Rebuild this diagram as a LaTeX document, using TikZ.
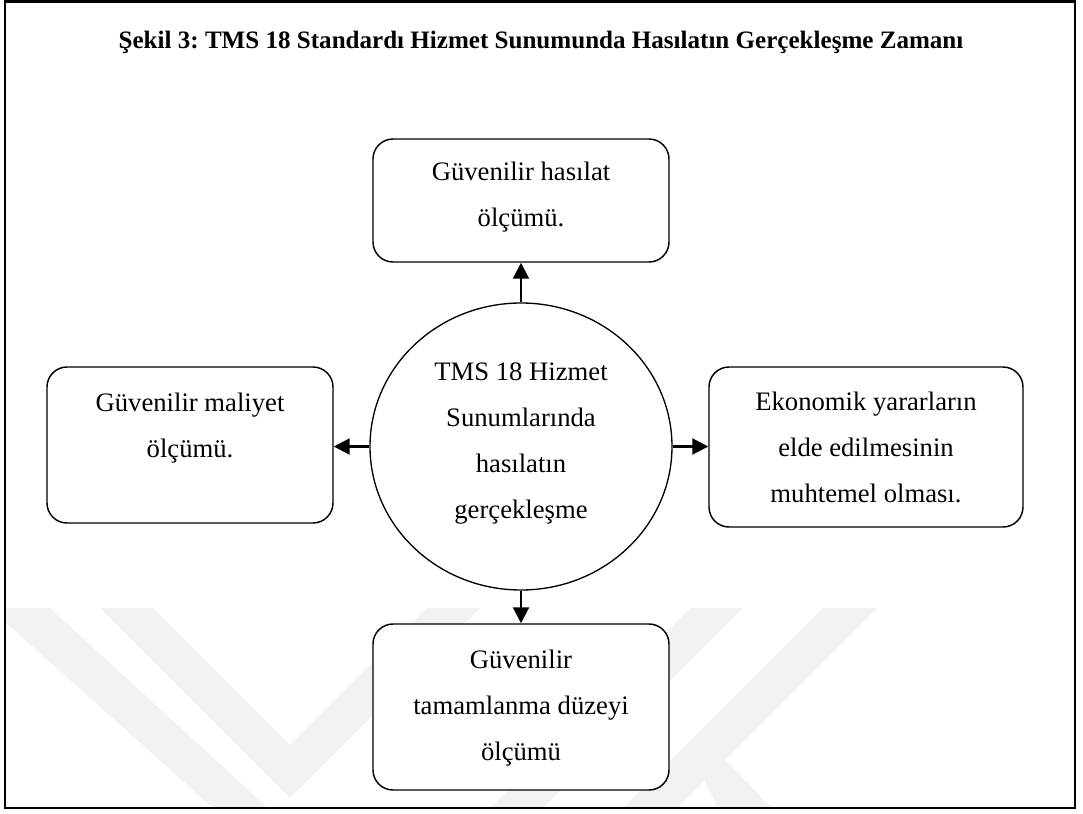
\documentclass[tikz,border=0pt]{standalone}
\usepackage{fontspec}
\setmainfont{Liberation Serif}
\usetikzlibrary{arrows.meta,shapes.geometric}
\frenchspacing
\begin{document}
\begin{tikzpicture}[x=0.75pt,y=-0.75pt,
  wmark/.style={fill=black!5,draw=none},
  box/.style={draw,line width=1.1pt,rounded corners=15pt,fill=white,inner sep=0pt},
  hubshape/.style={draw,ellipse,line width=1pt,fill=white,inner sep=0pt,
    minimum width=226.5pt,minimum height=215.25pt},
  boxtext/.style={anchor=north,align=center,inner sep=0pt,
    font=\fontsize{20}{34.5}\selectfont},
  link/.style={line width=1.6pt,-{Triangle[length=12pt,width=12pt]}}
]
\useasboundingbox (0,0) rectangle (1083,814);

% faint background stripes
\fill[wmark] (5,608) -- (50,608) -- (268,808) -- (213,808) -- (5,622) -- cycle;
\fill[wmark] (100,608) -- (153,608) -- (290,745) -- (427,608) -- (480,608) -- (290,798) -- cycle;
\fill[wmark] (690,608) -- (743,608) -- (543,808) -- (490,808) -- cycle;
\fill[wmark] (823,608) -- (877,608) -- (677,808) -- (623,808) -- cycle;
\fill[wmark] (700,772) -- (725,760) -- (772,808) -- (718,808) -- cycle;

% outer frame
\draw[line width=1.9pt] (5,1.5) rectangle (1075,808);

% title
\node (title) at (541,42) {\bfseries\fontsize{18.8}{22}\selectfont Şekil 3: TMS 18 Standardı Hizmet Sunumunda Hasılatın Gerçekleşme Zamanı};

% central ellipse and the four surrounding boxes
\node[hubshape] (hub) at (521,446.5) {};
\node[box,minimum width=222pt,minimum height=92.25pt] (top) at (521,200.5) {};
\node[box,minimum width=214.5pt,minimum height=117pt] (left) at (190,445) {};
\node[box,minimum width=235.5pt,minimum height=120pt] (right) at (866,447) {};
\node[box,minimum width=222pt,minimum height=124.5pt] (bottom) at (521,707) {};

% texts
\node[boxtext] (hubtext) at (521,362) {TMS 18 Hizmet\\Sunumlarında\\hasılatın\\gerçekleşme};
\node[boxtext] (toptext) at (521,162) {Güvenilir hasılat\\ölçümü.};
\node[boxtext] (lefttext) at (190,393) {Güvenilir maliyet\\ölçümü.};
\node[boxtext] (righttext) at (866,392) {Ekonomik yararların\\elde edilmesinin\\muhtemel olması.};
\node[boxtext] (bottomtext) at (521,650) {Güvenilir\\tamamlanma düzeyi\\ölçümü};

% connectors
\draw[link] (hub.north) -- (top.south);
\draw[link] (hub.west) -- (hub.west -| left.east);
\draw[link] (hub.east) -- (hub.east -| right.west);
\draw[link] (hub.south) -- (bottom.north);
\end{tikzpicture}
\end{document}
